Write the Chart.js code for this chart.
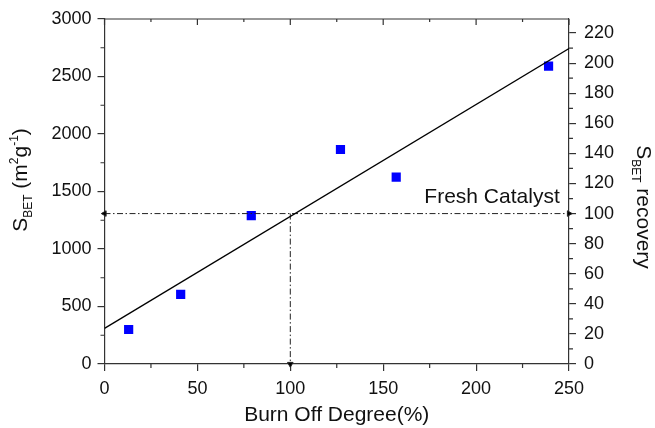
<!DOCTYPE html>
<html>
<head>
<meta charset="utf-8">
<script src="https://cdn.jsdelivr.net/npm/chart.js@4"></script>
<style>
  html, body { margin: 0; padding: 0; background: #fff; }
  #wrap { width: 655px; height: 428px; }
</style>
</head>
<body>
<div id="wrap"><canvas id="chart" width="655" height="428"></canvas></div>
<script>
// measured points
const burnOff = [13, 41, 79, 127, 157, 239];
const sbet = [300, 605, 1290, 1865, 1625, 2590];

// linear fit
const fitX = [0, 250];
const fitY = [310, 2744];

// fresh catalyst reference
const freshSbet = 1308;
const freshX = [0, 250];
const dropX = [100, 100];
const dropY = [freshSbet, 0];

const xTicks = [0, 250, 50];        // min, max, step
const yTicks = [0, 3000, 500];
const y2Step = 20;

const FONT = "'Liberation Sans', Arial, sans-serif";
const axisColor = '#333';

function pts(xs, ys) {
    return xs.map((x, i) => ({ x: x, y: ys[i] }));
}

// draws text with sub/superscripts along the current baseline
function richText(ctx, parts) {
    let total = 0;
    parts.forEach(p => {
        ctx.font = p[1] + 'px ' + FONT;
        p.w = ctx.measureText(p[0]).width;
        total += p.w;
    });
    let x = -total / 2;
    parts.forEach(p => {
        ctx.font = p[1] + 'px ' + FONT;
        ctx.fillText(p[0], x, p[2]);
        x += p.w;
    });
}

const extras = {
    id: 'extras',
    afterDraw(chart) {
        const { ctx, chartArea: a, scales: { x, y, y2 } } = chart;
        ctx.save();
        ctx.strokeStyle = axisColor;
        ctx.lineWidth = 1.2;
        ctx.beginPath();
        // top frame with inward ticks
        ctx.moveTo(a.left, a.top);
        ctx.lineTo(a.right, a.top);
        for (let v = xTicks[0]; v <= xTicks[1]; v += xTicks[2] / 2) {
            const px = x.getPixelForValue(v);
            ctx.moveTo(px, a.top);
            ctx.lineTo(px, a.top + (v % xTicks[2] ? 3 : 6));
        }
        // minor ticks
        for (let v = xTicks[2] / 2; v < xTicks[1]; v += xTicks[2]) {
            const px = x.getPixelForValue(v);
            ctx.moveTo(px, a.bottom);
            ctx.lineTo(px, a.bottom + 4);
        }
        for (let v = yTicks[2] / 2; v < yTicks[1]; v += yTicks[2]) {
            const py = y.getPixelForValue(v);
            ctx.moveTo(a.left, py);
            ctx.lineTo(a.left - 4, py);
        }
        for (let v = y2Step / 2; v < y2.max; v += y2Step) {
            const py = y2.getPixelForValue(v);
            ctx.moveTo(a.right, py);
            ctx.lineTo(a.right + 4, py);
        }
        ctx.stroke();

        ctx.fillStyle = '#111';
        ctx.textBaseline = 'alphabetic';
        ctx.textAlign = 'left';

        // left title
        ctx.save();
        ctx.translate(27, 180);
        ctx.rotate(-Math.PI / 2);
        richText(ctx, [['S', 21, 0], ['BET', 12, 5], [' (m', 21, 0], ['2', 12, -9],
                       ['g', 21, 0], ['-1', 12, -9], [')', 21, 0]]);
        ctx.restore();

        // right title
        ctx.save();
        ctx.translate(637, 207);
        ctx.rotate(Math.PI / 2);
        richText(ctx, [['S', 21, 0], ['BET', 12, 5], [' recovery', 21, 0]]);
        ctx.restore();

        // annotation
        ctx.font = '21px ' + FONT;
        ctx.textAlign = 'right';
        ctx.fillText('Fresh Catalyst', x.getPixelForValue(245), y.getPixelForValue(freshSbet) - 11);
        ctx.restore();
    }
};

const dash = [6, 2.5, 1.5, 2.5];
const tickFont = { family: FONT, size: 18 };
const plain = v => String(v);

new Chart(document.getElementById('chart'), {
    type: 'scatter',
    data: {
        datasets: [
            {
                data: pts(fitX, fitY),
                showLine: true,
                borderColor: '#000',
                borderWidth: 1.3,
                pointRadius: 0
            },
            {
                data: pts(freshX, [freshSbet, freshSbet]),
                showLine: true,
                borderWidth: 1,
                borderDash: dash,
                pointStyle: 'triangle',
                pointRadius: 3.2,
                pointRotation: [-90, 90],
                backgroundColor: '#000',
                borderColor: '#222',
                clip: false
            },
            {
                data: pts(dropX, dropY),
                showLine: true,
                borderColor: '#222',
                borderWidth: 1,
                borderDash: dash,
                pointStyle: 'triangle',
                pointRadius: [0, 3.2],
                pointRotation: 180,
                backgroundColor: '#000',
                clip: false
            },
            {
                data: pts(burnOff, sbet),
                pointStyle: 'rect',
                pointRadius: 6.5,
                backgroundColor: '#0000ff',
                borderColor: '#0000ff',
                borderWidth: 0
            }
        ]
    },
    options: {
        responsive: false,
        animation: false,
        layout: { padding: { top: 19, left: 0, right: 0, bottom: 0 } },
        plugins: { legend: { display: false }, tooltip: { enabled: false } },
        scales: {
            x: {
                type: 'linear',
                min: xTicks[0],
                max: xTicks[1],
                ticks: { stepSize: xTicks[2], font: tickFont, color: '#111', padding: 7, maxRotation: 0, callback: plain },
                grid: { drawOnChartArea: false, tickLength: 7, color: axisColor, lineWidth: 1.2 },
                border: { color: axisColor, width: 1.2 },
                title: { display: true, text: 'Burn Off Degree(%)', font: { family: FONT, size: 21 }, color: '#111', padding: 0 },
                afterFit(s) { s.height = 64; }
            },
            y: {
                position: 'left',
                min: yTicks[0],
                max: yTicks[1],
                ticks: { stepSize: yTicks[2], font: tickFont, color: '#111', padding: 6, callback: plain },
                grid: { drawOnChartArea: false, tickLength: 7, color: axisColor, lineWidth: 1.2 },
                border: { color: axisColor, width: 1.2 },
                afterFit(s) { s.width = 104.5; }
            },
            y2: {
                position: 'right',
                min: 0,
                max: yTicks[1] / freshSbet * 100,
                ticks: { stepSize: y2Step, includeBounds: false, font: tickFont, color: '#111', padding: 8, callback: plain },
                grid: { drawOnChartArea: false, tickLength: 7, color: axisColor, lineWidth: 1.2 },
                border: { color: axisColor, width: 1.2 },
                afterFit(s) { s.width = 86; }
            }
        }
    },
    plugins: [extras]
});
</script>
</body>
</html>
